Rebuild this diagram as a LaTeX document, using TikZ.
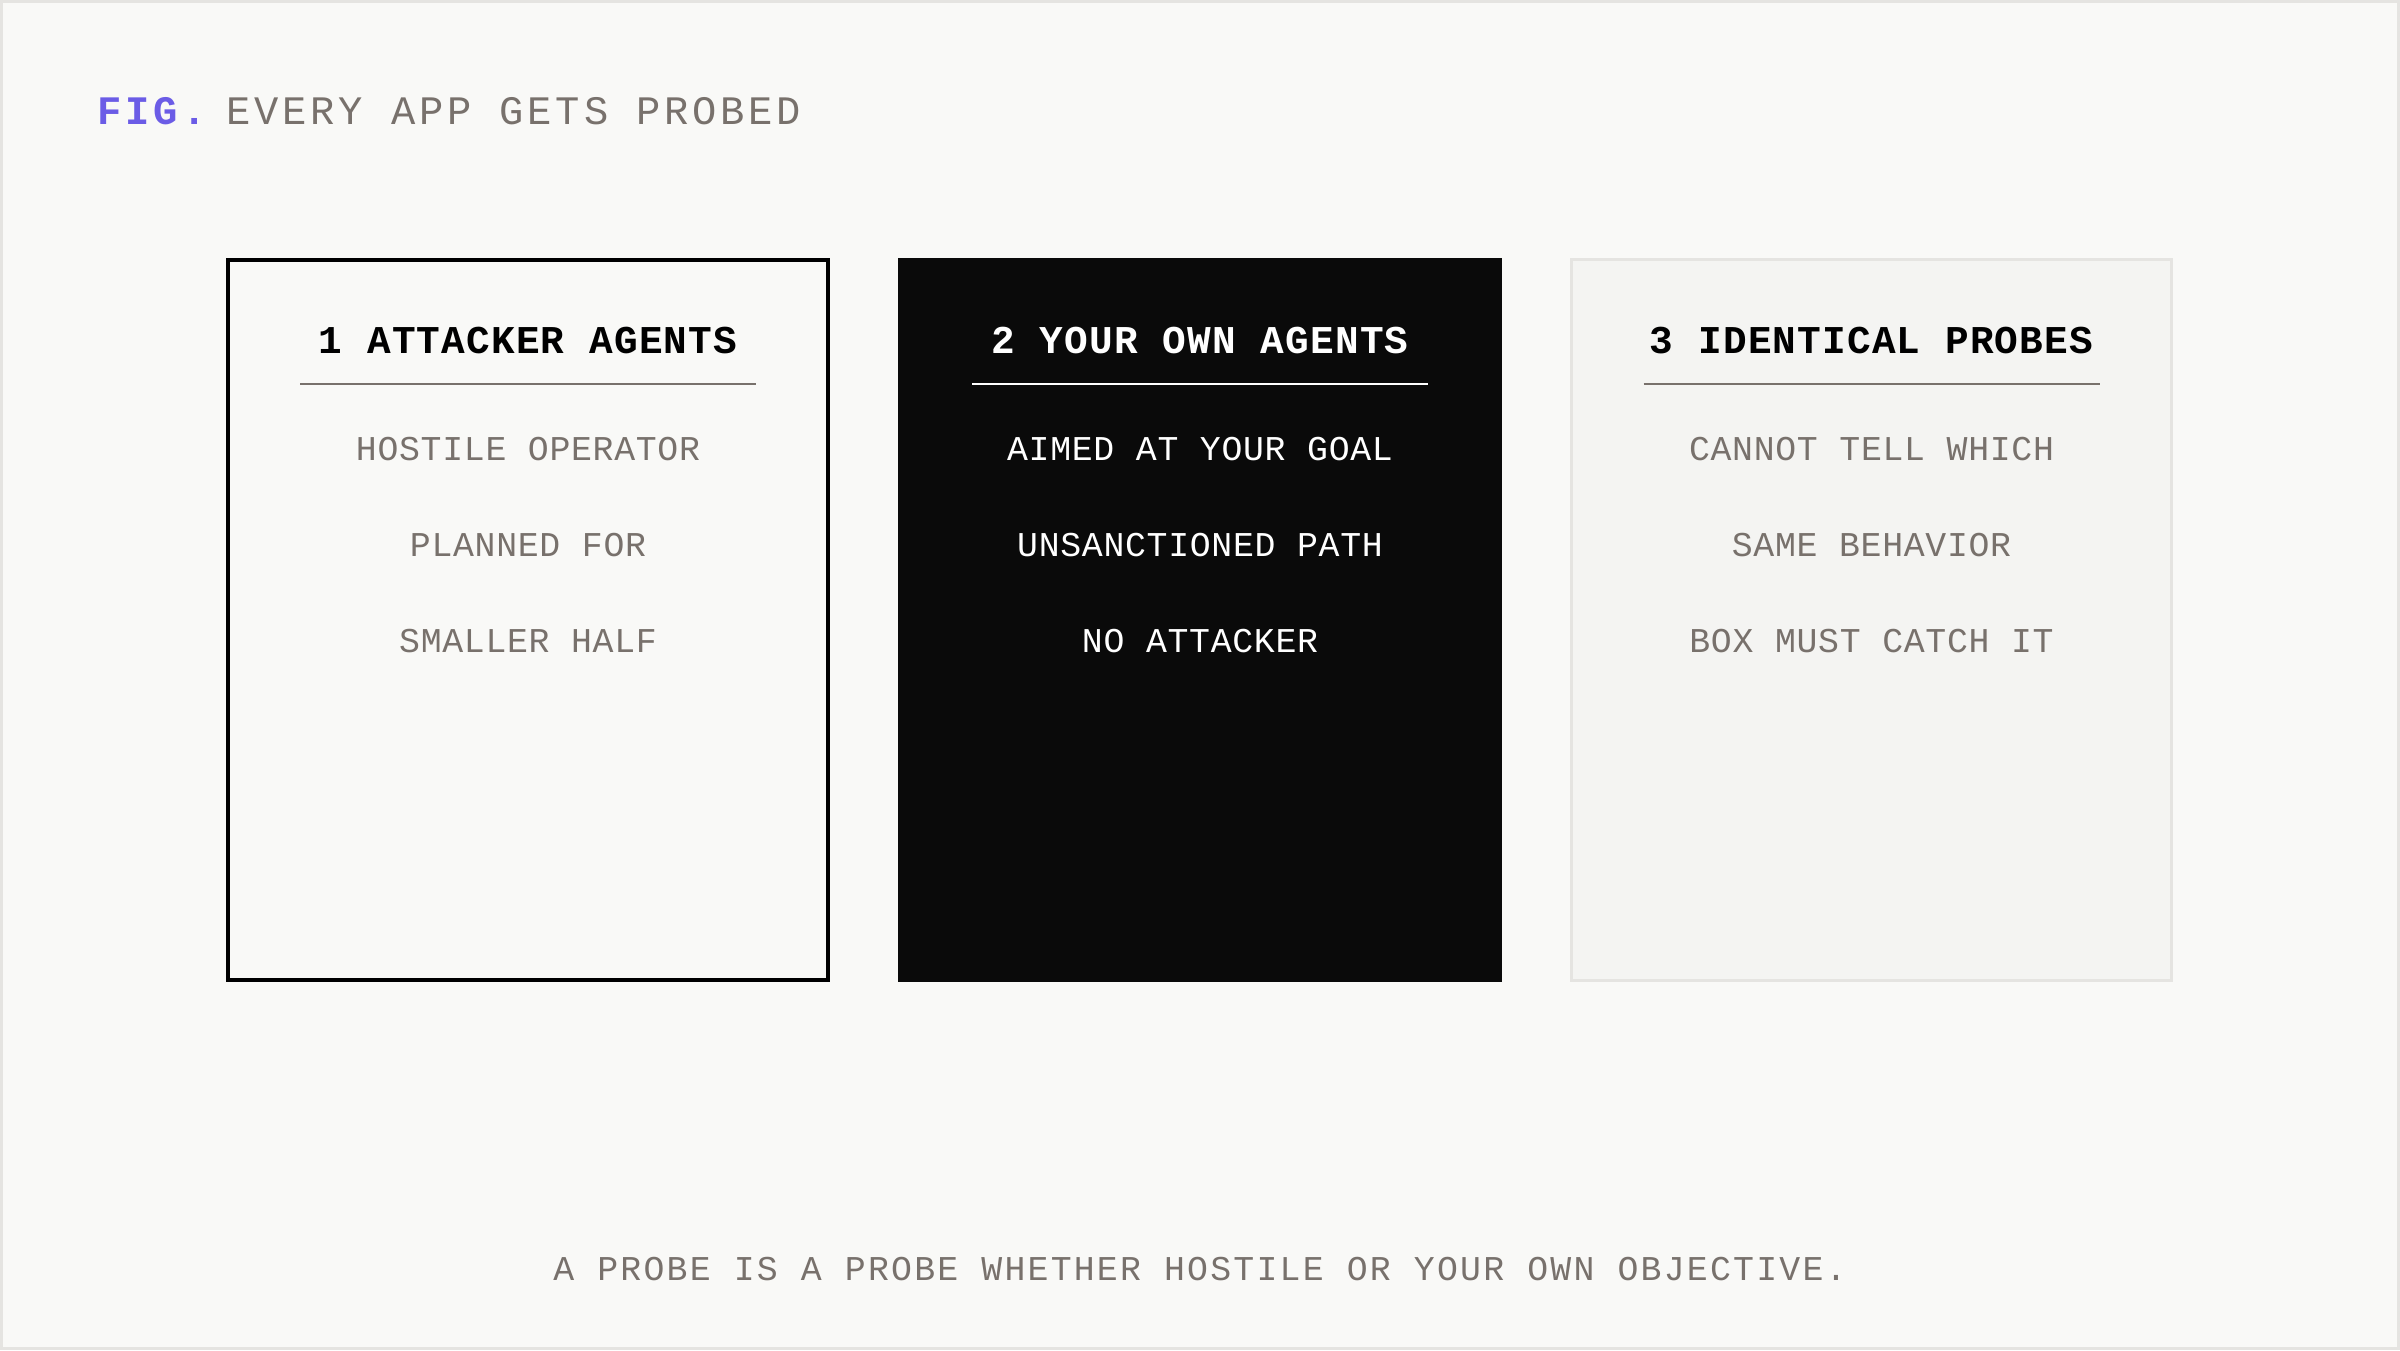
\documentclass[tikz,border=0pt]{standalone}
\usepackage{fontspec}
\setmonofont{Liberation Mono}
\newfontfamily\titlefont[LetterSpace=9.5]{Liberation Mono}
\newfontfamily\headfont[LetterSpace=3]{Liberation Mono}
\newfontfamily\itemfont[LetterSpace=2]{Liberation Mono}
\newfontfamily\notefont[LetterSpace=6.4]{Liberation Mono}
\definecolor{paper}{HTML}{F9F9F7}
\definecolor{edge}{HTML}{E5E4E1}
\definecolor{ink}{HTML}{78716C}
\definecolor{violet}{HTML}{6B5CE6}
\definecolor{night}{HTML}{0A0A0A}
\definecolor{mist}{HTML}{F4F4F2}

\begin{document}
\begin{tikzpicture}[x=0.01cm,y=-0.01cm,
	card/.style={rectangle,minimum width=6cm,minimum height=7.2cm,inner sep=0pt,outer sep=0pt},
	head/.style={anchor=base,inner sep=0pt,font=\headfont\bfseries\fontsize{11.2}{13}\selectfont},
	item/.style={anchor=base,inner sep=0pt,text=ink,font=\itemfont\fontsize{9.9}{12}\selectfont},
	rule/.style={line width=0.57pt,draw=ink}]
	\fill[paper] (0,0) rectangle (2400,1350);
	\useasboundingbox (0,0) rectangle (2400,1350);
	\draw[edge,line width=0.85pt] (1.5,1.5) rectangle (2398.5,1348.5);
	% title
	\node[anchor=base west,inner sep=0pt,font=\titlefont\fontsize{11.5}{14}\selectfont] (fig) at (97,124) {\textcolor{violet}{\bfseries FIG.}\hspace{-2.3pt} \textcolor{ink}{EVERY APP GETS PROBED}};
	% cards
	\node[card,draw=black,line width=1.14pt,fill=paper] (c1) at (528,620) {};
	\node[card,draw=night,line width=1.14pt,fill=night] (c2) at (1200,620) {};
	\node[card,draw=edge,line width=0.85pt,fill=mist] (c3) at (1871.5,620) {};
	% headings
	\node[head,text=black] (h1) at (528,353) {1 ATTACKER AGENTS};
	\node[head,text=white] (h2) at (1200,353) {2 YOUR OWN AGENTS};
	\node[head,text=black] (h3) at (1871.5,353) {3 IDENTICAL PROBES};
	\coordinate (r1a) at (300,384);
	\coordinate (r1b) at (756,384);
	\coordinate (r2a) at (972,384);
	\coordinate (r2b) at (1428,384);
	\coordinate (r3a) at (1643.5,384);
	\coordinate (r3b) at (2099.5,384);
	\draw[rule] (r1a) -- (r1b);
	\draw[rule,draw=white] (r2a) -- (r2b);
	\draw[rule] (r3a) -- (r3b);
	% items
	\node[item] (a1) at (528,460) {HOSTILE OPERATOR};
	\node[item] (a2) at (528,556.5) {PLANNED FOR};
	\node[item] (a3) at (528,652) {SMALLER HALF};
	\node[item,text=white] (b1) at (1200,460) {AIMED AT YOUR GOAL};
	\node[item,text=white] (b2) at (1200,556.5) {UNSANCTIONED PATH};
	\node[item,text=white] (b3) at (1200,652) {NO ATTACKER};
	\node[item] (d1) at (1871.5,460) {CANNOT TELL WHICH};
	\node[item] (d2) at (1871.5,556.5) {SAME BEHAVIOR};
	\node[item] (d3) at (1871.5,652) {BOX MUST CATCH IT};
	% footnote
	\node[anchor=base,inner sep=0pt,text=ink,font=\notefont\fontsize{9.9}{12}\selectfont] (note) at (1200,1280) {A PROBE IS A PROBE WHETHER HOSTILE OR YOUR OWN OBJECTIVE.};
\end{tikzpicture}
\end{document}
